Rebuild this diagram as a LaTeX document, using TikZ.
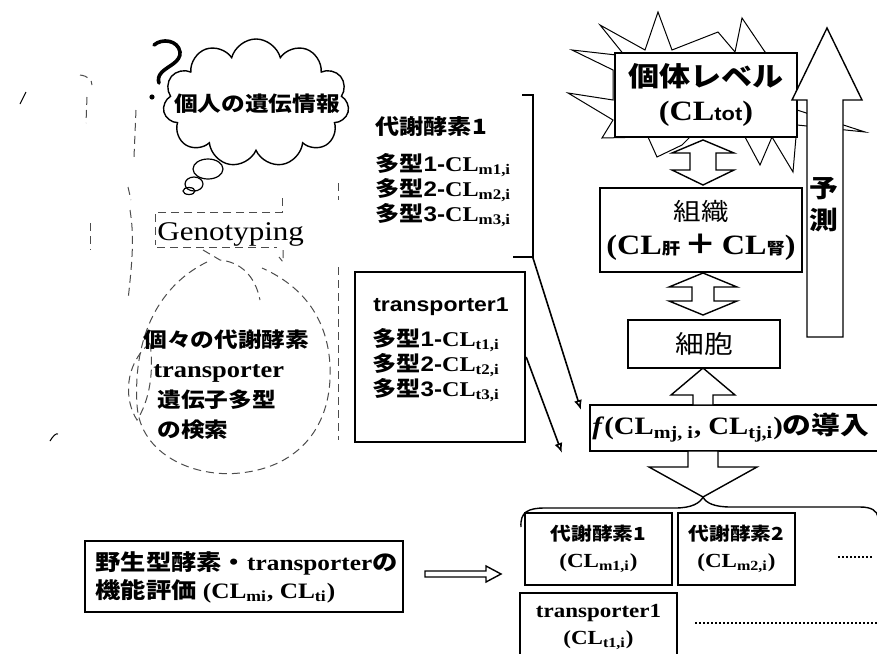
\documentclass[tikz,border=0pt]{standalone}
\usepackage{fontspec}
\setmainfont{Liberation Serif}[FakeStretch=1.15]
\setsansfont{Liberation Sans}[FakeStretch=1.15]
\newfontfamily\jp{Noto Sans CJK JP}[FakeStretch=1.15]
\usetikzlibrary{arrows.meta,positioning,shapes.symbols,calc}

% clearance with a bold subscript, and one polymorphism line
\newcommand{\CL}{\textbf{CL}}
\newcommand{\CLsub}[1]{\CL\textsubscript{\textbf{#1}}}
\newcommand{\poly}[2]{{\jp\bfseries 多型}{\sffamily\bfseries #1-}\CLsub{#2}}

\begin{document}
\begin{tikzpicture}[
    x=0.5pt, y=-0.5pt,
    lvlbox/.style={draw, line width=1.2pt, fill=white, align=center, inner sep=0pt},
    cellbox/.style={draw, line width=0.8pt, fill=white, align=center, inner sep=0pt},
    blockarr/.style={draw, line width=0.7pt, fill=white, line join=miter},
    thinarr/.style={-{Latex[open, length=5pt, width=4pt]}, line width=0.8pt},
    sketch/.style={dash pattern=on 4pt off 2.5pt, line width=0.5pt, black!70},
    dots/.style={dash pattern=on 0.8pt off 1.2pt, line width=0.8pt},
]
\useasboundingbox (0,0) rectangle (877,653);

% ---- left: personal genetic information ----
\node[cloud, draw, cloud puffs=11, line width=0.7pt, minimum width=93pt, minimum height=64pt] (cloud) at (256,103) {};
\node[font=\jp\bfseries\fontsize{10.3}{12}\selectfont] (gene) at (257,104) {個人の遺伝情報};
\draw[line width=0.6pt] (208,169) ellipse [x radius=15, y radius=10];
\draw[line width=0.6pt] (194,184) ellipse [x radius=9, y radius=7];
\draw[line width=0.6pt] (189,191) ellipse [x radius=6, y radius=3.5];
\draw[line width=1.8pt, line cap=round] (154,45) .. controls (162,38) and (178,40) .. (180,52)
    .. controls (181,62) and (168,66) .. (162,72) .. controls (158,76) and (158,80) .. (159,83);
\fill (152,97) circle[radius=1.3pt];

\node[font=\fontsize{13.5}{15}\selectfont, anchor=base west, inner sep=0pt] (geno) at (157,240) {Genotyping};
\draw[sketch] (282,198) -- (282,212) -- (155,212) -- (155,245);
\draw[sketch] (157,247) -- (277,247);
\draw[sketch] (283,250) -- (283,262) -- (279,257);

% faint sketch around the search
\draw[sketch] (207,262) .. controls (160,285) and (133,335) .. (137,405)
    .. controls (140,455) and (195,478) .. (240,473) .. controls (300,467) and (333,425) .. (330,365)
    .. controls (327,315) and (300,285) .. (262,268);
\draw[sketch] (150,343) .. controls (124,365) and (124,400) .. (137,420) .. controls (150,400) and (154,370) .. (150,343);
\draw[sketch] (203,250) -- (220,260) .. controls (240,262) and (255,275) .. (260,300);
\draw[sketch] (338,183) -- (338,200);
\draw[sketch] (338,267) -- (338,440);
\draw[sketch] (130,210) .. controls (134,235) and (133,255) .. (128,300);
\draw[sketch] (90,223) -- (90,250);
\draw[sketch] (80,75) .. controls (88,76) and (92,80) .. (92,85);
\draw[sketch] (87,97) -- (86,123);
\draw[sketch] (136,110) -- (134,157);
\draw[sketch] (128,187) -- (131,200);
\draw[line width=0.5pt] (20,104) -- (26,92);
\draw[line width=0.5pt] (50,441) .. controls (53,436) and (56,433) .. (58,434);

\node[anchor=north west, align=left, inner sep=0pt, font=\jp\bfseries\fontsize{10.3}{15}\selectfont] (search) at (143,329)
    {個々の代謝酵素\\\hspace*{5pt}{\rmfamily\bfseries\fontsize{11.5}{15}\selectfont transporter}\\\hspace*{7pt}遺伝子多型\\\hspace*{7pt}の検索};

% ---- middle: polymorphisms ----
\node[anchor=west, inner sep=0pt, font=\jp\bfseries\fontsize{10.5}{12}\selectfont] (enzhead) at (375,127) {代謝酵素1};
\node[anchor=west, align=left, inner sep=0pt, font=\fontsize{10.5}{12.5}\selectfont] (enzpoly) at (375,190)
    {\poly{1}{m1,i}\\\poly{2}{m2,i}\\\poly{3}{m3,i}};
\draw[line width=0.9pt] (522,95) -- (533,95) -- (533,257) -- (513,257);
\coordinate (brk) at (533,258);

\node[lvlbox, minimum width=85pt, minimum height=85pt] (tr1) at (440,357) {};
\node[inner sep=0pt, font=\sffamily\bfseries\fontsize{10}{12}\selectfont] (trhead) at (441,307) {transporter1};
\node[anchor=west, align=left, inner sep=0pt, font=\fontsize{10.5}{12.5}\selectfont] (trpoly) at (372,365)
    {\poly{1}{t1,i}\\\poly{2}{t2,i}\\\poly{3}{t3,i}};

% ---- right: levels ----
\draw[line width=0.5pt] (613,70) -- (572,50) -- (625,56) -- (600,25) -- (645,50) -- (658,12) -- (672,50)
    -- (718,32) -- (735,52) -- (742,18) -- (765,52) -- (797,72) -- (797,110) -- (865,132) -- (797,125)
    -- (793,172) -- (772,137) -- (760,165) -- (745,137) -- (690,137) -- (682,145) -- (657,157)
    -- (648,137) -- (602,138) -- (613,120) -- (568,93) -- (613,100) -- cycle;

\node[lvlbox, minimum width=91pt, minimum height=42pt, font=\bfseries\fontsize{14}{16}\selectfont] (lvl) at (706,95)
    {{\jp\bfseries\fontsize{13.5}{16}\selectfont 個体レベル}\\[1pt](\CL{\sffamily\bfseries\fontsize{9.5}{12}\selectfont tot})};
\node[lvlbox, minimum width=101pt, minimum height=42pt, font=\bfseries\fontsize{14}{17}\selectfont] (tis) at (701,230)
    {{\jp\mdseries\fontsize{12}{15}\selectfont 組織}\\(\CL{\jp\fontsize{8}{8}\selectfont 肝}\,{\jp ＋}\,\CL{\jp\fontsize{8}{8}\selectfont 腎})};
\node[lvlbox, minimum width=76pt, minimum height=24pt, font=\jp\fontsize{12.5}{15}\selectfont] (cel) at (704,344) {細胞};
\node[lvlbox, minimum width=155pt, minimum height=23pt] (fbox) at (745,428) {};
\node[anchor=west, inner sep=0pt, font=\bfseries\fontsize{12.5}{15}\selectfont] (ftext) at (592,428)
    {\textit{f}(\CLsub{mj, i}, \CLsub{tj,i}){\jp\bfseries の導入}};

% block arrows between the levels
\draw[blockarr] (703,140) -- ++(31,13) -- ++(-18,0) -- ++(0,17) -- ++(18,0) -- ++(-31,15)
    -- ++(-31,-15) -- ++(18,0) -- ++(0,-17) -- ++(-18,0) -- cycle;
\draw[blockarr] (703,273) -- ++(34,14) -- ++(-23,0) -- ++(0,14) -- ++(23,0) -- ++(-34,14)
    -- ++(-34,-14) -- ++(23,0) -- ++(0,-14) -- ++(-23,0) -- cycle;
\draw[blockarr] (703,368) -- ++(32,27) -- ++(-22,0) -- ++(0,10) -- ++(-20,0) -- ++(0,-10) -- ++(-22,0) -- cycle;
\draw[blockarr] (688,451) -- (718,451) -- (718,467) -- (757,467) -- (703,497) -- (649,467) -- (688,467) -- cycle;

% prediction arrow
\draw[blockarr] (827,28) -- (862,100) -- (843,100) -- (843,337) -- (807,337) -- (807,100) -- (792,100) -- cycle;
\node[align=center, inner sep=0pt, font=\jp\bfseries\fontsize{12.5}{16}\selectfont] (pred) at (824,205) {予\\測};

% thin arrows into f
\coordinate (fin1) at (581,410);
\coordinate (fin2) at (562,453);
\draw[thinarr] (brk) -- (fin1);
\draw[thinarr] (tr1.east) -- (fin2);

% ---- bottom: wild type and the brace ----
\node[lvlbox, minimum width=159pt, minimum height=35.5pt] (wild) at (244,576.5) {};
\node[anchor=west, align=left, inner sep=0pt, font=\bfseries\fontsize{11}{14}\selectfont] (wildtext) at (95,577)
    {{\jp\bfseries 野生型酵素・}transporter{\jp\bfseries の}\\{\jp\bfseries 機能評価} (\CLsub{mi}, \CLsub{ti})};
\coordinate (wa) at (425,574);
\draw[blockarr] (wa) ++(0,-3) -- ++(61,0) -- ++(0,-5) -- ++(15,8) -- ++(-15,8) -- ++(0,-5) -- ++(-61,0) -- cycle;

\draw[line width=0.7pt] (521,527) .. controls (520,512) and (528,508) .. (545,508) -- (675,508)
    .. controls (692,508) and (700,503) .. (703,497) .. controls (706,503) and (714,507) .. (731,507)
    -- (860,507) .. controls (872,507) and (877,511) .. (878,517);

\node[cellbox, minimum width=73.5pt, minimum height=36pt, font=\bfseries\fontsize{10}{13.5}\selectfont] (m1) at (598.5,549)
    {{\jp\bfseries\fontsize{9}{12}\selectfont 代謝酵素1}\\(\CLsub{m1,i})};
\node[cellbox, minimum width=58.5pt, minimum height=36pt, font=\bfseries\fontsize{10}{13.5}\selectfont] (m2) at (736.5,549)
    {{\jp\bfseries\fontsize{9}{12}\selectfont 代謝酵素2}\\(\CLsub{m2,i})};
\node[cellbox, minimum width=78.5pt, minimum height=33.5pt, font=\bfseries\fontsize{10}{13.5}\selectfont] (t1) at (598.5,626.5)
    {transporter1\\(\CLsub{t1,i})};
\draw[dots] (838,557) -- (873,557);
\draw[dots] (695,623) -- (877,623);

\end{tikzpicture}
\end{document}
